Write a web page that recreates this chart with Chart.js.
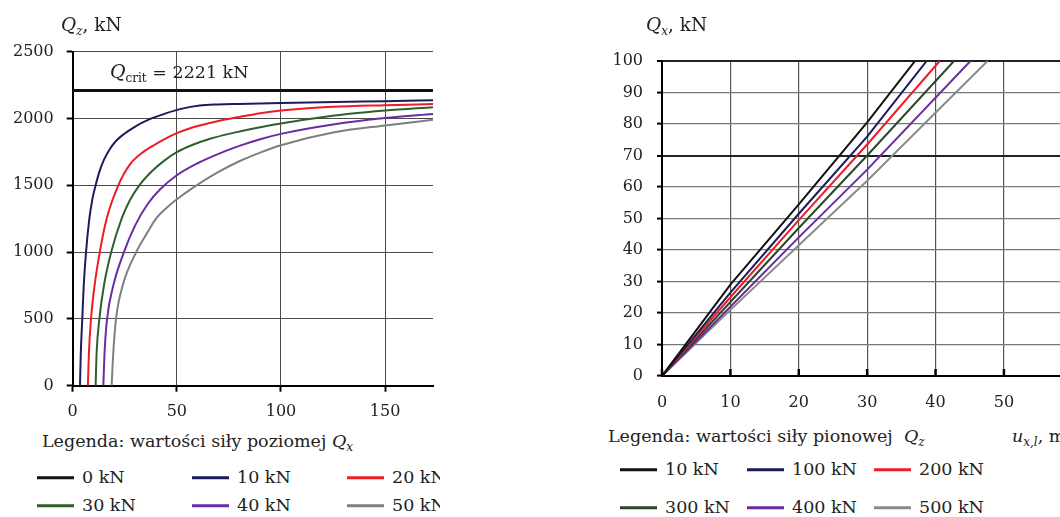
<!DOCTYPE html>
<html><head><meta charset="utf-8">
<script src="https://cdn.jsdelivr.net/npm/chart.js@4.4.1/dist/chart.umd.min.js"></script>
<style>
html,body{margin:0;padding:0;background:#fff;}
body{width:1060px;height:517px;position:relative;overflow:hidden;font-family:"DejaVu Serif",serif;color:#222;}
.panel{position:absolute;top:0;height:517px;overflow:hidden;}
#leftPanel{left:0;width:440px;}
#rightPanel{left:580px;width:480px;}
canvas{position:absolute;left:0;top:0;}
.t{position:absolute;white-space:nowrap;font-size:17.5px;line-height:1;transform:translateY(-50%);}
.t i{font-style:italic;}
.ttl{font-size:18.5px;}
sub{font-size:12px;vertical-align:-4px;line-height:0;}
.leg-item{position:absolute;white-space:nowrap;font-size:17.5px;line-height:1;transform:translateY(-50%);display:flex;align-items:center;}
.leg-line{display:inline-block;width:37px;height:3px;margin-right:8px;}
</style></head>
<body>
<div class="panel" id="leftPanel">
  <canvas id="cL" width="440" height="430"></canvas>
  <div class="t ttl" style="left:61px;top:25px"><i>Q</i><sub><i>z</i></sub>, kN</div>
  <div class="t" id="qcritLabel" style="left:110px;top:72px"></div>
  <div class="t" style="left:42px;top:442px">Legenda: wartości siły poziomej <i>Q</i><sub><i>x</i></sub></div>
</div>
<div class="panel" id="rightPanel">
  <canvas id="cR" width="480" height="420"></canvas>
  <div class="t ttl" style="left:66px;top:25px"><i>Q</i><sub><i>x</i></sub>, kN</div>
  <div class="t" style="left:28px;top:437px">Legenda: wartości siły pionowej&nbsp; <i>Q</i><sub><i>z</i></sub></div>
  <div class="t" style="left:432px;top:437px"><i>u</i><sub><i>x,l</i></sub>, mm</div>
</div>
<script>
// ---------- LEFT CHART DATA (Qz [kN] vs displacement [mm]) ----------
const qcrit = 2221;
const leftLabels = ['0 kN','10 kN','20 kN','30 kN','40 kN','50 kN'];
const q0_x  = [0, 173];
const q0_y  = [2210, 2210];
const q10_x = [3.5, 3.9, 4.6, 5.3, 6.4, 8, 9.5, 11, 13, 15, 18, 21, 24.3, 30, 37, 45, 52, 61, 70, 80, 100, 150, 173];
const q10_y = [0, 250, 500, 750, 1000, 1250, 1400, 1500, 1610, 1690, 1775, 1835, 1880, 1940, 1995, 2040, 2072, 2097, 2105, 2109, 2116, 2130, 2136];
const q20_x = [7.3, 7.8, 8.8, 10.5, 13, 16.3, 21.9, 27.5, 33.9, 39.5, 45, 50, 56, 61, 70, 80, 90, 100, 125, 150, 173];
const q20_y = [0, 250, 500, 750, 1000, 1250, 1500, 1657, 1750, 1805, 1853, 1890, 1925, 1948, 1982, 2012, 2040, 2060, 2088, 2100, 2108];
const q30_x = [11, 11.5, 12.8, 15, 18.5, 23.5, 27.5, 32, 38, 44, 50, 58, 66, 75, 90, 100, 112, 133, 150, 173];
const q30_y = [0, 250, 500, 750, 1000, 1250, 1390, 1500, 1605, 1685, 1748, 1805, 1848, 1885, 1935, 1963, 1993, 2035, 2060, 2085];
const q40_x = [14.7, 15.3, 16.5, 19.5, 24.6, 30, 36, 42, 50, 60, 70, 80, 90, 100, 125, 150, 173];
const q40_y = [0, 250, 500, 750, 1000, 1200, 1360, 1470, 1575, 1665, 1735, 1795, 1845, 1885, 1955, 2003, 2033];
const q50_x = [18.7, 19.5, 20.8, 24, 30.5, 36, 40, 45, 50, 58, 70, 80, 90, 100, 125, 150, 173];
const q50_y = [0, 250, 500, 750, 1000, 1150, 1250, 1330, 1395, 1485, 1600, 1680, 1745, 1800, 1895, 1948, 1990];
const leftXTicks = [0, 50, 100, 150];
const leftYTicks = [0, 500, 1000, 1500, 2000, 2500];

// ---------- RIGHT CHART DATA (Qx [kN] vs u_x,l [mm]) ----------
const rightLabels = ['10 kN','100 kN','200 kN','300 kN','400 kN','500 kN'];
const r10_x  = [0, 10, 20, 30, 37];     const r10_y  = [0, 29, 54.5, 80.5, 100];
const r100_x = [0, 10, 20, 30, 38.7];   const r100_y = [0, 26.5, 51.5, 76, 100];
const r200_x = [0, 10, 20, 30, 40.6];   const r200_y = [0, 25, 49.5, 73.5, 100];
const r300_x = [0, 10, 20, 30, 42.7];   const r300_y = [0, 23.5, 47, 70, 100];
const r400_x = [0, 10, 20, 30, 45.1];   const r400_y = [0, 22, 44, 65.5, 100];
const r500_x = [0, 10, 20, 30, 47.6];   const r500_y = [0, 21, 41.5, 62, 100];
const rightXTicks = [0, 10, 20, 30, 40, 50];
const rightYTicks = [0, 10, 20, 30, 40, 50, 60, 70, 80, 90, 100];

// ---------- styles ----------
const leftColors  = ['#111111','#1c1c5c','#ee1c24','#2f5f2f','#6a2ca0','#7f7f7f'];
const leftWidths  = [3, 2, 2, 2, 2, 2];
const rightColors = ['#111111','#1c1c5c','#ee1c24','#2c462c','#6a2ca0','#8a8a8a'];

function pts(xs, ys){ return xs.map((x,i)=>({x:x, y:ys[i]})); }

document.getElementById('qcritLabel').innerHTML =
  '<i style="font-size:19px">Q</i><sub>crit</sub> = ' + qcrit + ' kN';

const FONT = {family:'"DejaVu Serif", serif', size:16};
const plain = (v)=>String(v);

// inner tick marks on the bottom axis (right chart)
const innerTicks = {
  id:'innerTicks',
  afterDraw(chart, args, opts){
    if(!opts.on) return;
    const xs = chart.scales.x, ctx = chart.ctx, b = chart.chartArea.bottom;
    ctx.save(); ctx.strokeStyle = '#000'; ctx.lineWidth = 2.5;
    rightXTicks.forEach(v=>{
      const px = xs.getPixelForValue(v);
      ctx.beginPath(); ctx.moveTo(px, b); ctx.lineTo(px, b-7); ctx.stroke();
    });
    ctx.restore();
  }
};

const leftSeries = [[q0_x,q0_y],[q10_x,q10_y],[q20_x,q20_y],[q30_x,q30_y],[q40_x,q40_y],[q50_x,q50_y]];
new Chart(document.getElementById('cL'), {
  type:'line',
  data:{ datasets: leftSeries.map((s,i)=>({
    label:leftLabels[i], data:pts(s[0],s[1]), borderColor:leftColors[i],
    borderWidth:leftWidths[i], pointRadius:0, fill:false,
    cubicInterpolationMode:'monotone'
  }))},
  options:{
    responsive:false, animation:false, devicePixelRatio:1,
    layout:{padding:{left:0, top:51.7, right:7, bottom:4.3}},
    plugins:{legend:{display:false}, tooltip:{enabled:false}},
    scales:{
      x:{type:'linear', min:0, max:173,
        afterBuildTicks:(s)=>{ s.ticks = leftXTicks.map(v=>({value:v})); },
        afterFit:(s)=>{ s.height = 40; },
        ticks:{font:FONT, color:'#222', padding:11, maxRotation:0, callback:plain},
        grid:{color:'#4a4a4a', lineWidth:1, drawTicks:true, tickLength:6, tickColor:'#000', tickWidth:2},
        border:{color:'#000', width:2}
      },
      y:{type:'linear', min:0, max:2500,
        afterBuildTicks:(s)=>{ s.ticks = leftYTicks.map(v=>({value:v})); },
        afterFit:(s)=>{ s.width = 72.7; },
        ticks:{font:FONT, color:'#222', padding:13, callback:plain},
        grid:{color:'#4a4a4a', lineWidth:1, drawTicks:true, tickLength:6, tickColor:'#000', tickWidth:2},
        border:{color:'#000', width:2}
      }
    }
  }
});

const rightSeries = [[r10_x,r10_y],[r100_x,r100_y],[r200_x,r200_y],[r300_x,r300_y],[r400_x,r400_y],[r500_x,r500_y]];
new Chart(document.getElementById('cR'), {
  type:'line',
  data:{ datasets: rightSeries.map((s,i)=>({
    label:rightLabels[i], data:pts(s[0],s[1]), borderColor:rightColors[i],
    borderWidth:2, pointRadius:0, fill:false, tension:0
  }))},
  plugins:[innerTicks],
  options:{
    responsive:false, animation:false, devicePixelRatio:1,
    layout:{padding:{left:0, top:61, right:0, bottom:4}},
    plugins:{legend:{display:false}, tooltip:{enabled:false}, innerTicks:{on:true}},
    scales:{
      x:{type:'linear', min:0, max:58.2,
        afterBuildTicks:(s)=>{ s.ticks = rightXTicks.map(v=>({value:v})); },
        afterFit:(s)=>{ s.height = 40; },
        ticks:{font:FONT, color:'#222', padding:17, maxRotation:0, callback:plain},
        grid:{color:'#555', lineWidth:1.2, drawTicks:false},
        border:{color:'#000', width:2}
      },
      y:{type:'linear', min:0, max:100,
        afterBuildTicks:(s)=>{ s.ticks = rightYTicks.map(v=>({value:v})); },
        afterFit:(s)=>{ s.width = 82; },
        ticks:{font:FONT, color:'#222', padding:14, callback:plain},
        grid:{
          color:(c)=> (c.tick && (c.tick.value===70 || c.tick.value===100)) ? '#222' : '#777',
          lineWidth:(c)=> (c.tick && (c.tick.value===70 || c.tick.value===100)) ? 2 : 1.2,
          drawTicks:true, tickLength:5, tickColor:'#000', tickWidth:2},
        border:{color:'#000', width:2}
      }
    }
  }
});

// ---------- HTML legends built from labels/colours ----------
function buildLegend(panelId, labels, colors, cols, rows){
  const panel = document.getElementById(panelId);
  labels.forEach((lab,i)=>{
    const d = document.createElement('div');
    d.className = 'leg-item';
    d.style.left = cols[i%3] + 'px';
    d.style.top = rows[Math.floor(i/3)] + 'px';
    d.innerHTML = '<span class="leg-line" style="background:'+colors[i]+'"></span>' + lab;
    panel.appendChild(d);
  });
}
buildLegend('leftPanel', leftLabels, leftColors, [37,192,347], [478,506]);
buildLegend('rightPanel', rightLabels, rightColors, [40,167,294], [470,508]);
</script>
</body></html>
